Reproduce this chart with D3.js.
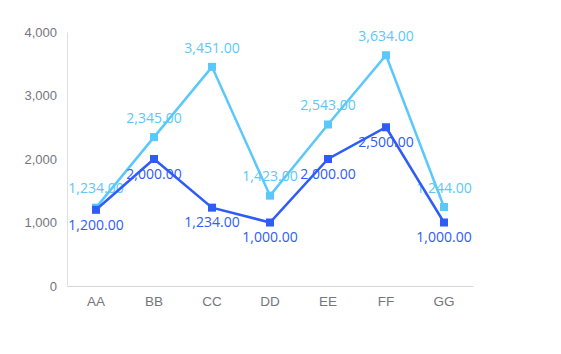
<!DOCTYPE html>
<html>
<head>
<meta charset="utf-8">
<script src="https://cdn.jsdelivr.net/npm/d3@7"></script>
<style>
  body { margin: 0; background: #fff; }
  svg { font-family: "Open Sans", "Noto Sans", sans-serif; }
</style>
</head>
<body>
<div id="chart"><svg></svg></div>
<script>
// categories and series
const categories = ["AA", "BB", "CC", "DD", "EE", "FF", "GG"];
const seriesLight = [1234, 2345, 3451, 1423, 2543, 3634, 1244];
const seriesDark = [1200, 2000, 1234, 1000, 2000, 2500, 1000];
const yTicks = [0, 1000, 2000, 3000, 4000];

const w = 561, h = 354;
const margin = { top: 32, right: 88, bottom: 68, left: 67 };

const svg = d3.select("#chart svg")
  .attr("width", w)
  .attr("height", h);

const x = d3.scaleBand()
  .domain(categories)
  .range([margin.left, w - margin.right]);

const y = d3.scaleLinear()
  .domain([0, 4000])
  .range([h - margin.bottom, margin.top]);

const fmtTick = d3.format(",");
const fmtLabel = d3.format(",.2f");

// y axis (labels only, plus thin line)
const yAxis = svg.append("g")
  .attr("transform", `translate(${margin.left},0)`)
  .call(d3.axisLeft(y).tickValues(yTicks).tickFormat(fmtTick).tickSize(0).tickPadding(10));
yAxis.select(".domain").attr("stroke", "#e0e0e0");
yAxis.selectAll("text").attr("fill", "#74767e").style("font-size", "13px");

// x axis
const xAxis = svg.append("g")
  .attr("transform", `translate(0,${h - margin.bottom})`)
  .call(d3.axisBottom(x).tickSize(0).tickPadding(10));
xAxis.select(".domain").attr("stroke", "#d6d6d6");
xAxis.selectAll("text").attr("fill", "#74767e").style("font-size", "13.5px");

const cx = d => x(d) + x.bandwidth() / 2;

function drawSeries(values, color, labelDy) {
  const g = svg.append("g");
  const pts = categories.map((c, i) => [cx(c), y(values[i])]);
  g.append("path")
    .attr("d", d3.line()(pts))
    .attr("fill", "none")
    .attr("stroke", color)
    .attr("stroke-width", 2.5);
  g.selectAll("rect")
    .data(values)
    .join("rect")
    .attr("x", (d, i) => cx(categories[i]) - 4)
    .attr("y", d => y(d) - 4)
    .attr("width", 8)
    .attr("height", 8)
    .attr("fill", color);
  g.selectAll("text")
    .data(values)
    .join("text")
    .attr("x", (d, i) => cx(categories[i]))
    .attr("y", d => y(d) + labelDy)
    .attr("text-anchor", "middle")
    .attr("dominant-baseline", "middle")
    .attr("fill", color)
    .style("font-size", "14px")
    .text(d => fmtLabel(d));
}

drawSeries(seriesLight, "#5ac8fa", -18);
drawSeries(seriesDark, "#2f5bf8", 16);
</script>
</body>
</html>
